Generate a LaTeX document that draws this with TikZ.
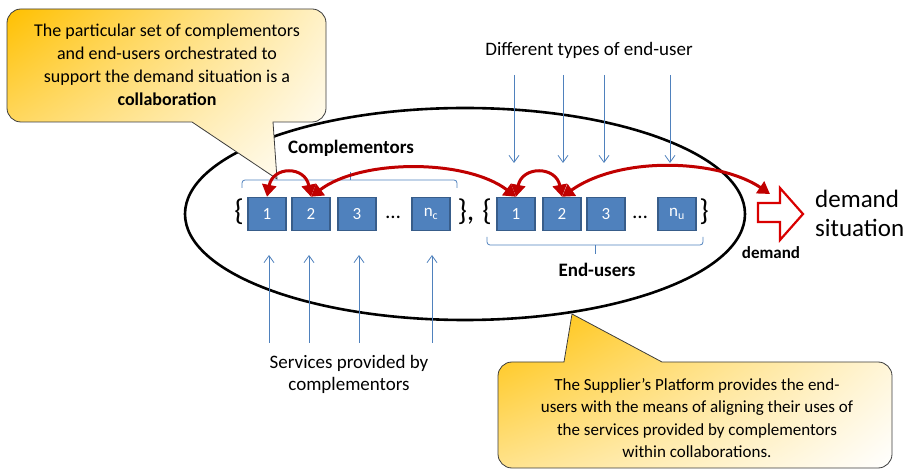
\documentclass[tikz,border=0pt]{standalone}
\usepackage{fontspec}
\setmainfont{Carlito}
\usetikzlibrary{arrows.meta,shadings}
\definecolor{boxblue}{RGB}{79,129,189}
\definecolor{boxedge}{RGB}{56,93,138}
\definecolor{linkred}{RGB}{192,0,0}
\definecolor{calloutgold}{RGB}{255,192,0}
\definecolor{calloutedge}{RGB}{60,60,60}
\begin{document}
\begin{tikzpicture}[x=1pt,y=-1pt,
  member/.style={draw=boxedge,fill=boxblue,line width=1.5,minimum width=38,minimum height=33,
    inner sep=0,text=white,font=\fontsize{17}{20}\selectfont},
  plain/.style={inner sep=0,font=\fontsize{19}{22}\selectfont,align=center},
  brace/.style={inner sep=0,font=\fontsize{30}{30}\selectfont},
  callout/.style={draw=calloutedge,line width=0.8,
    upper left=calloutgold,upper right=calloutgold!22!white,
    lower left=calloutgold!45!white,lower right=white},
  feed/.style={draw=boxblue,line width=0.8,-{Straight Barb[length=7,width=10]}},
  bracket/.style={draw=boxblue,line width=0.8,rounded corners=3},
  link/.style={draw=linkred,line width=3,{Triangle[length=12,width=14]}-{Triangle[length=12,width=14]}}]
\useasboundingbox (0,0) rectangle (908,470);

% platform boundary
\draw[line width=2.6] (465,214) ellipse [x radius=280, y radius=106];

% callouts
\path[callout] (273,122) [rounded corners=14] -- (326,122) -- (326,9) -- (7,9) -- (7,122) [sharp corners] -- (192,122) -- (277,179) -- cycle;
\node[plain,font=\fontsize{18}{23}\selectfont] (collab) at (167,65) {The particular set of complementors\\and end-users orchestrated to\\support the demand situation is a\\\textbf{collaboration}};

\path[callout] (564,362) [rounded corners=14] -- (498,362) -- (498,468) -- (892,468) -- (892,362) [sharp corners] -- (662,362) -- (572,314) -- cycle;
\node[plain,font=\fontsize{17}{22.5}\selectfont] (platform) at (697,418) {The Supplier’s Platform provides the end-\\users with the means of aligning their uses of\\the services provided by complementors\\within collaborations.};

% complementors
\node[brace] (cl) at (239,212) {\{};
\node[member] (c1) at (267,214) {1};
\node[member] (c2) at (311,214) {2};
\node[member] (c3) at (357,214) {3};
\node[plain] (cdots) at (393,217) {\fontsize{21}{21}\selectfont\dots};
\node[member] (cn) at (431,214) {n\textsubscript{c}};
\node[brace] (cr) at (466,212) {\},};

% end-users
\node[brace] (el) at (487,212) {\{};
\node[member] (e1) at (516,214) {1};
\node[member] (e2) at (562,214) {2};
\node[member] (e3) at (606,214) {3};
\node[plain] (edots) at (640,217) {\fontsize{21}{21}\selectfont\dots};
\node[member] (en) at (677,214) {n\textsubscript{u}};
\node[brace] (er) at (704,212) {\}};

% group brackets and their labels
\draw[bracket] (242,188) |- (457,180) -- (457,188);
\draw[bracket] (350,180) -- (350,172);
\node[plain,font=\fontsize{19}{22}\selectfont\bfseries] (comp) at (351,148) {Complementors};
\draw[bracket] (487,237) |- (703,245) -- (703,237);
\draw[bracket] (595,245) -- (595,254);
\node[plain,font=\fontsize{19}{22}\selectfont\bfseries] (eu) at (597,270) {End-users};

% incoming services and end-user types
\node[plain] (types) at (589,50) {Different types of end-user};
\foreach \x [count=\i] in {514,563,604,670} {
  \coordinate (ts\i) at (\x,75);
  \coordinate (te\i) at (\x,163);
  \draw[feed] (ts\i) -- (te\i);
}
\node[plain] (services) at (349,374) {Services provided by\\complementors};
\foreach \x [count=\i] in {269,309,359,432} {
  \coordinate (ss\i) at (\x,343);
  \coordinate (se\i) at (\x,255);
  \draw[feed] (ss\i) -- (se\i);
}

% demand block arrow
\draw[draw=red!85!black,fill=white,line width=2.2,line join=miter]
  (758,203) -- (780,203) -- (780,188) -- (803,214) -- (780,240) -- (780,222) -- (758,222) -- cycle;
\coordinate (dem) at (770,194);
\node[plain,font=\fontsize{17}{20}\selectfont\bfseries] (demlbl) at (771,253) {demand};
\node[plain,anchor=west,align=left,font=\fontsize{25}{29}\selectfont] (situation) at (815,213) {demand\\situation};

% orchestration links
\draw[link] (c1.north) .. controls +(6,-31) and +(-6,-31) .. (c2.north);
\draw[link] (c2.north) .. controls +(50,-38) and +(-50,-38) .. (e1.north);
\draw[link] (e1.north) .. controls +(6,-31) and +(-6,-31) .. (e2.north);
\draw[link] (e2.north) .. controls +(60,-42) and +(-50,-34) .. (dem);
\end{tikzpicture}
\end{document}
